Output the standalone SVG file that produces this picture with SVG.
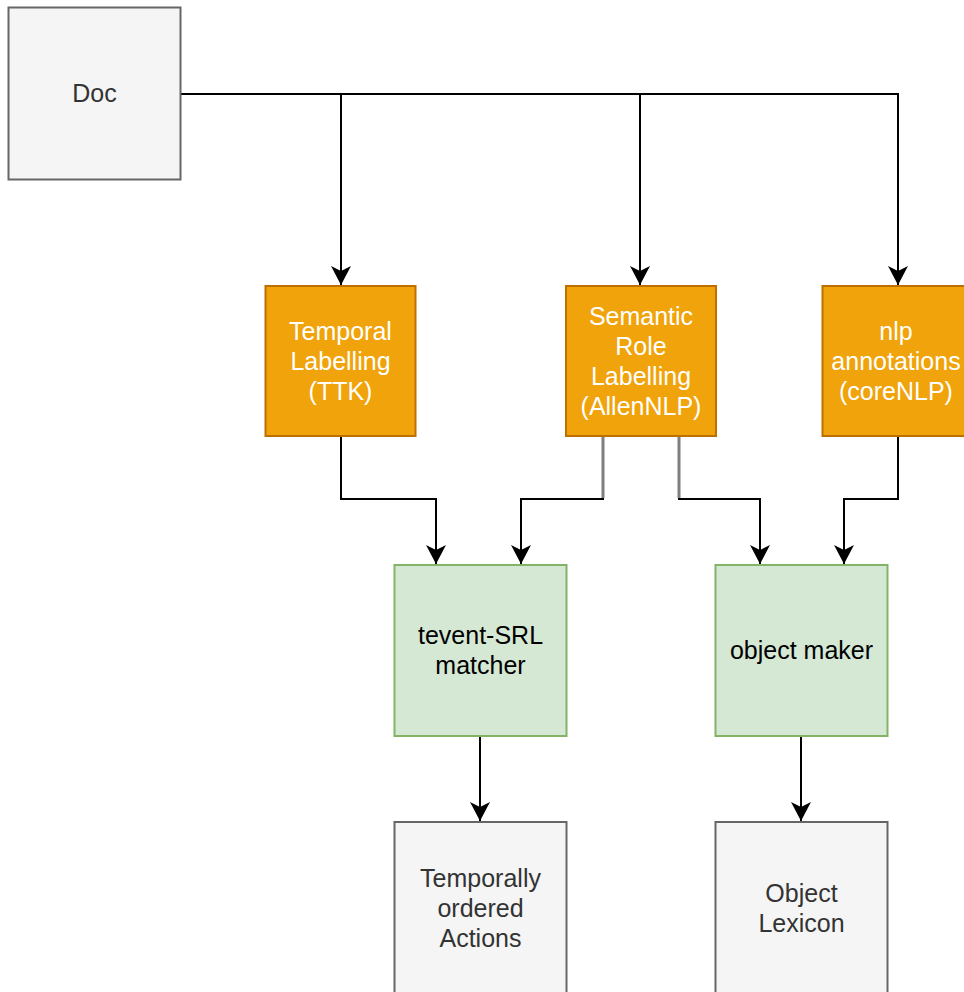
<svg xmlns="http://www.w3.org/2000/svg" width="964" height="992" viewBox="0 0 964 992">
<style>
text{font-family:"Liberation Sans",Arial,Helvetica,sans-serif;font-size:25px;text-anchor:middle}
.gray rect{fill:#f5f5f5;stroke:#666666;stroke-width:2}
.gray text{fill:#333333}
.orange rect{fill:#f0a30a;stroke:#bd7000;stroke-width:2}
.orange text{fill:#ffffff}
.green rect{fill:#d5e8d4;stroke:#82b366;stroke-width:2}
.green text{fill:#000000}
.edge{fill:none;stroke:#000;stroke-width:2;marker-end:url(#arr)}
</style>
<defs>
<marker id="arr" markerUnits="userSpaceOnUse" markerWidth="26" markerHeight="26" refX="22" refY="13" orient="auto" overflow="visible">
<path d="M22,13 L3,3 L8,13 L3,23 Z" fill="#000"/>
</marker>
</defs>
<g id="connectors">
<path class="edge" d="M181,94 H898 V285"/>
<path class="edge" d="M341,94 V285"/>
<path class="edge" d="M640,94 V285"/>
<path class="edge" d="M341,436 V499 H436 V564"/>
<path class="edge" d="M603,436 V499 H521 V564"/>
<path class="edge" d="M679,436 V499 H760 V564"/>
<path class="edge" d="M898,436 V499 H844 V564"/>
<path d="M603,437 V498 M679,437 V498" stroke="#7f7f7f" stroke-width="3" fill="none"/>
<path class="edge" d="M480,736 V821"/>
<path class="edge" d="M801,736 V821"/>
</g>
<g id="doc" class="gray">
<rect x="8.5" y="7.5" width="172" height="172"/>
<text x="94.5" y="102">Doc</text>
</g>
<g id="temporal" class="orange">
<rect x="265.5" y="286" width="150" height="150"/>
<text x="340.5" y="340">Temporal</text>
<text x="340.5" y="370">Labelling</text>
<text x="340.5" y="400">(TTK)</text>
</g>
<g id="srl" class="orange">
<rect x="566" y="286" width="150" height="150"/>
<text x="641" y="325">Semantic</text>
<text x="641" y="355">Role</text>
<text x="641" y="385">Labelling</text>
<text x="641" y="415">(AllenNLP)</text>
</g>
<g id="nlp" class="orange">
<rect x="822.5" y="286" width="150" height="150"/>
<text x="896" y="340">nlp</text>
<text x="896" y="370">annotations</text>
<text x="896" y="400">(coreNLP)</text>
</g>
<g id="tevent" class="green">
<rect x="394.5" y="565" width="172" height="171"/>
<text x="480.5" y="644">tevent-SRL</text>
<text x="480.5" y="674">matcher</text>
</g>
<g id="objmaker" class="green">
<rect x="715.5" y="565" width="172" height="171"/>
<text x="801.5" y="659">object maker</text>
</g>
<g id="actions" class="gray">
<rect x="394.5" y="822" width="172" height="172"/>
<text x="480.5" y="887">Temporally</text>
<text x="480.5" y="917">ordered</text>
<text x="480.5" y="947">Actions</text>
</g>
<g id="lexicon" class="gray">
<rect x="715.5" y="822" width="172" height="172"/>
<text x="801.5" y="902">Object</text>
<text x="801.5" y="932">Lexicon</text>
</g>
</svg>
